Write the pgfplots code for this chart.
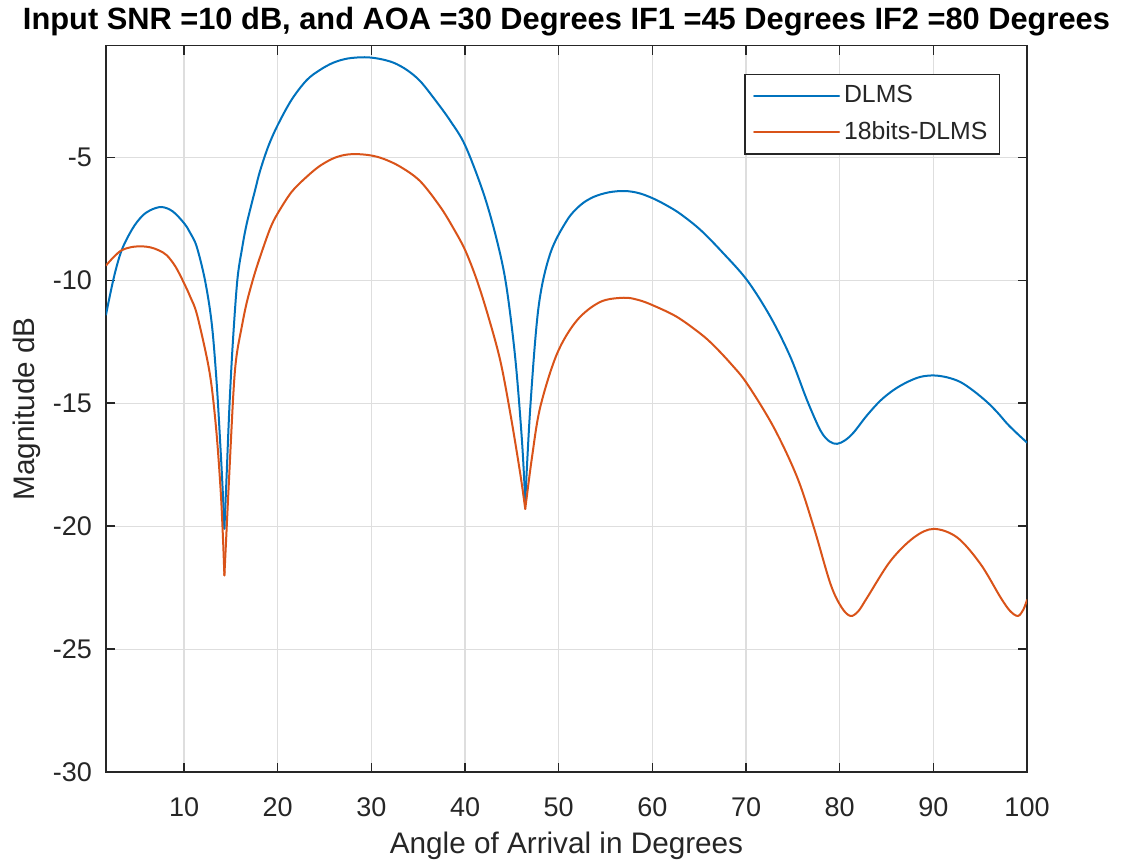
\documentclass[border=0pt]{standalone}
\usepackage{fontspec}
\setmainfont{Liberation Sans}
\usepackage{pgfplots}
\pgfplotsset{compat=1.18}
\definecolor{mblue}{RGB}{0,114,189}
\definecolor{morange}{RGB}{217,83,25}
\definecolor{axgray}{RGB}{38,38,38}
\definecolor{gridgray}{RGB}{222,222,222}
\begin{document}
\begin{tikzpicture}
\begin{axis}[
  name=ax,
  scale only axis,
  width=460.5pt, height=363.2pt,
  xmin=1.67, xmax=100, ymin=-30, ymax=-0.46,
  xtick={10,20,...,100},
  ytick={-30,-25,...,-5},
  grid=major,
  major grid style={color=gridgray, line width=0.6pt},
  axis line style={color=axgray, line width=0.75pt},
  tick style={color=axgray, line width=0.75pt},
  tick align=inside,
  major tick length=4.6pt,
  /pgf/number format/assume math mode=true,
  tick label style={font=\fontsize{13.5}{16}\selectfont, text=axgray},
  xticklabel style={yshift=-9pt},
  yticklabel style={xshift=-3.5pt},
  every axis title shift=0pt,
  title={Input SNR =10 dB, and AOA =30 Degrees IF1 =45 Degrees IF2 =80 Degrees},
  title style={at={(axis description cs:0.5,1.0218)}, anchor=base, font=\bfseries\fontsize{15.4}{18}\selectfont, text=black},
  xlabel={Angle of Arrival in Degrees},
  xlabel style={at={(axis description cs:0.5,-0.1115)}, anchor=base, font=\fontsize{14.85}{17}\selectfont, text=axgray},
  ylabel={Magnitude dB},
  ylabel style={at={(axis description cs:-0.0771,0.5)}, anchor=base, font=\fontsize{14.85}{17}\selectfont, text=axgray},
  legend cell align=left,
  legend image code/.code={\draw[#1] (0pt,0pt) -- (42.5pt,0pt);},
  legend style={at={(axis description cs:0.9707,0.961)}, anchor=north east,
    draw=axgray, line width=0.6pt, fill=white,
    font=\fontsize{12.4}{15}\selectfont, text=axgray,
    inner xsep=4pt, inner ysep=3.5pt, row sep=4pt,
    /tikz/every even column/.append style={column sep=3.7pt}},
  bl/.style={color=mblue, line width=1pt, smooth, tension=0.55, line cap=round},
  or/.style={color=morange, line width=1pt, smooth, tension=0.55, line cap=round},
]
% DLMS
\addplot[bl] coordinates {
(1.67,-11.4) (2.5,-9.9) (3.34,-8.78) (4.5,-7.9) (5.5,-7.4) (6.4,-7.15) (7.6,-7.02) (8.8,-7.2) (10.03,-7.69) (10.7,-8.1) (11.36,-8.64) (12.24,-10.0) (12.96,-11.76) (13.49,-14.2) (13.92,-17.0) (14.15,-18.7) (14.31,-20.1)
};
\addlegendentry{DLMS}
\addplot[bl, forget plot] coordinates {
(14.31,-20.1) (14.5,-18.4) (14.84,-15.2) (15.2,-12.6) (15.69,-10.0) (16.2,-8.7) (16.7,-7.69) (17.59,-6.33) (18.12,-5.55) (19.0,-4.55) (20.0,-3.69) (21.5,-2.65) (23.1,-1.86) (24.5,-1.45) (25.95,-1.15) (27.5,-0.98) (29.3,-0.93) (30.8,-0.99) (32.36,-1.15) (33.8,-1.45) (35.21,-1.9) (36.82,-2.67) (38.4,-3.5) (40.02,-4.52) (41.98,-6.47) (43.4,-8.37) (44.4,-10.2) (45.36,-13.15) (46.08,-16.52) (46.43,-19.0)
};
\addplot[bl, forget plot] coordinates {
(46.43,-19.0) (46.97,-15.16) (47.85,-11.09) (49.1,-8.91) (50.89,-7.56) (52.3,-6.95) (53.73,-6.61) (55.4,-6.42) (57.1,-6.37) (58.6,-6.46) (60.07,-6.67) (61.5,-6.95) (62.99,-7.3) (65.13,-7.95) (67.45,-8.85) (70.12,-10.0) (72.61,-11.49) (74.74,-13.12) (76.53,-14.89) (77.95,-16.11) (78.9,-16.55) (79.73,-16.65) (80.6,-16.5) (81.51,-16.18) (82.9,-15.5) (84.36,-14.89) (85.8,-14.45) (87.21,-14.14) (88.6,-13.93) (90.05,-13.87) (91.5,-13.95) (92.9,-14.14) (94.3,-14.5) (95.76,-14.96) (96.9,-15.4) (97.9,-15.84) (99,-16.25) (100,-16.6)
};
% 18bits-DLMS
\addplot[or] coordinates {
(1.67,-9.4) (2.5,-9.05) (3.34,-8.78) (4.4,-8.65) (5.48,-8.62) (6.4,-8.66) (7.3,-8.78) (8.15,-8.98) (9.1,-9.45) (10.03,-10.14) (10.7,-10.7) (11.36,-11.36) (12.42,-13.12) (12.96,-14.35) (13.49,-16.3) (13.92,-18.6) (14.15,-20.4) (14.31,-22.0)
};
\addlegendentry{18bits-DLMS}
\addplot[or, forget plot] coordinates {
(14.31,-22.0) (14.5,-20.5) (14.74,-18.6) (15.27,-14.6) (15.6,-13.1) (16.16,-11.9) (16.7,-10.9) (17.45,-9.85) (18.12,-9.05) (19.19,-7.9) (20.0,-7.28) (21.5,-6.4) (23.1,-5.79) (24.5,-5.35) (25.95,-5.04) (27.2,-4.9) (28.45,-4.87) (29.9,-4.92) (31.29,-5.06) (33.08,-5.38) (35.21,-5.97) (37.35,-7.01) (38.77,-7.89) (40.02,-8.78) (41.27,-10.0) (42.5,-11.49) (43.76,-13.26) (44.83,-15.4) (45.9,-17.87) (46.43,-19.3)
};
\addplot[or, forget plot] coordinates {
(46.43,-19.3) (47.15,-17.2) (48.03,-15.16) (49.82,-12.99) (51.95,-11.63) (54.44,-10.88) (56.94,-10.71) (58.5,-10.8) (60.07,-11.02) (62.63,-11.49) (65.13,-12.17) (66.55,-12.65) (68.4,-13.4) (70.12,-14.21) (72.96,-15.98) (75.46,-18.01) (77.24,-20.05) (79.02,-22.35) (80.2,-23.3) (81.15,-23.65) (82.0,-23.45) (82.94,-22.9) (85.43,-21.41) (87.92,-20.46) (90.05,-20.11) (92.55,-20.46) (95.04,-21.54) (97.18,-22.9) (98.2,-23.45) (99.03,-23.65) (99.6,-23.4) (100,-23.0)
};
\end{axis}
\pgfresetboundingbox
\path[use as bounding box] ([xshift=-53pt,yshift=-44.5pt]ax.south west) rectangle ([xshift=51pt,yshift=22.85pt]ax.north east);
\end{tikzpicture}
\end{document}
